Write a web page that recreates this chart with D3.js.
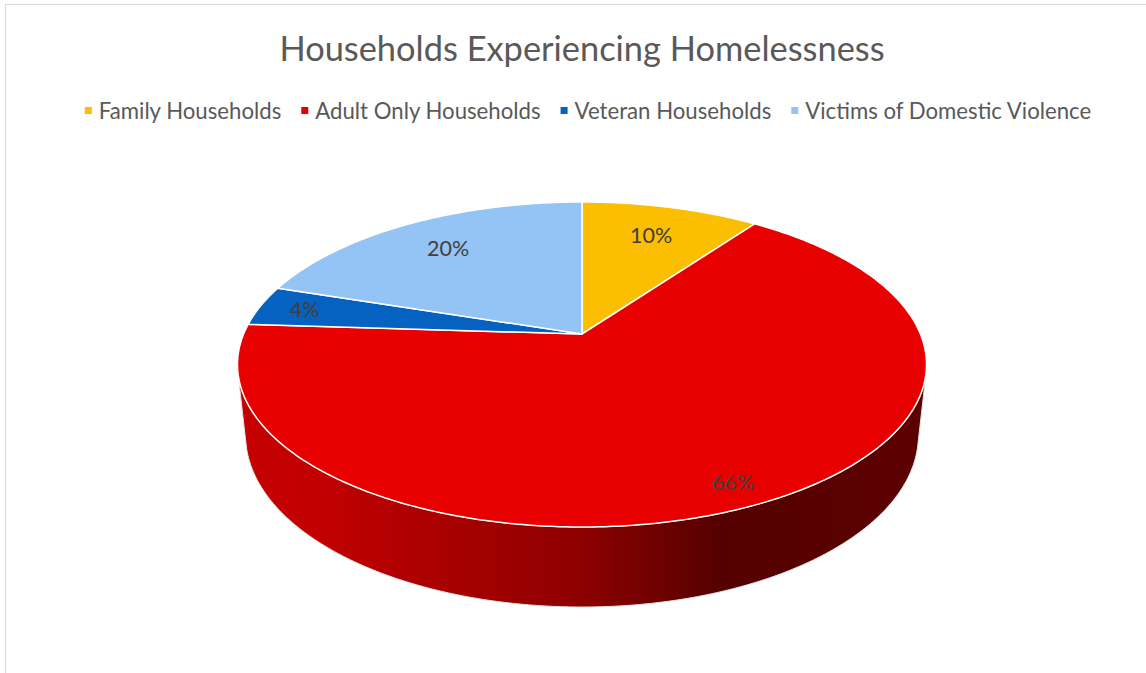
<!DOCTYPE html>
<html>
<head>
<meta charset="utf-8">
<script src="https://cdn.jsdelivr.net/npm/d3@7"></script>
<style>
  html, body { margin: 0; padding: 0; background: #fff; }
  svg { display: block; font-family: Lato, "Open Sans", sans-serif; }
</style>
</head>
<body>
<svg id="chart" width="1146" height="673"></svg>
<script>
// Household groups and their share of all households (percent)
const categories = ["Family Households", "Adult Only Households", "Veteran Households", "Victims of Domestic Violence"];
const shares = [10, 66, 4, 20];
const colors = ["#FBBE00", "#E80000", "#0562C1", "#94C4F5"];
const chartTitle = "Households Experiencing Homelessness";

// How far out along each slice its label sits (fraction of the radius)
const labelReach = [0.75, 0.89, 0.86, 0.75];

const svg = d3.select("#chart");
const W = 1146, H = 673;

// Chart frame
svg.append("rect")
  .attr("x", 5.5).attr("y", 4.5)
  .attr("width", W + 10).attr("height", H + 10)
  .attr("fill", "#fff").attr("stroke", "#d9d9d9").attr("stroke-width", 1);

// Title
svg.append("text")
  .attr("x", 582).attr("y", 61)
  .attr("text-anchor", "middle")
  .attr("font-size", 34.4)
  .attr("fill", "#595959")
  .text(chartTitle);

// Legend, laid out from measured text widths and centred
const legendY = 118.5, legendFont = 22.2, sw = 7, swGap = 7, itemGap = 20;
const legend = svg.append("g");
const items = legend.selectAll("g").data(categories).join("g");
items.append("rect")
  .attr("width", sw).attr("height", sw)
  .attr("y", legendY - 11.5)
  .attr("fill", (d, i) => colors[i]);
items.append("text")
  .attr("x", sw + swGap).attr("y", legendY)
  .attr("font-size", legendFont)
  .attr("fill", "#595959")
  .text(d => d);
let widths = [];
items.each(function() { widths.push(sw + swGap + this.querySelector("text").getComputedTextLength()); });
const total = d3.sum(widths) + itemGap * (widths.length - 1);
let cursor = 588 - total / 2;
items.attr("transform", (d, i) => {
  const x = cursor;
  cursor += widths[i] + itemGap;
  return `translate(${x},0)`;
});

// Perspective view of a tilted disc
const cx = 582, cy = 334;           // screen position of the pie centre
const farY = 202, nearY = 527;      // screen y of far and near rim
const tilt = 27.6 * Math.PI / 180;
const sT = Math.sin(tilt), cT = Math.cos(tilt);
const k = (nearY - cy) / (cy - farY);
const dist = cT * (k + 1) / (k - 1);
const focal = (cy - farY) * (dist + cT) / sT;
const thickness = 0.238;

function project(X, Y, Z) {
  const up = Y * sT + Z * cT;
  const depth = dist + Y * cT - Z * sT;
  return [cx + focal * X / depth, cy - focal * up / depth];
}
function rim(a, r, z) { return project(r * Math.sin(a), r * Math.cos(a), z); }

const pie = d3.pie().sort(null).value(d => d)
  .startAngle(0).endAngle(2 * Math.PI);
const arcs = pie(shares);

function arcPoints(a0, a1, r, z) {
  const n = Math.max(2, Math.ceil((a1 - a0) / 0.01));
  return d3.range(n + 1).map(i => rim(a0 + (a1 - a0) * i / n, r, z));
}

const line = d3.line();

// Side walls: only the front-facing part of the cylinder is visible
const limit = Math.acos(-1 / (dist * cT));
const visLo = limit, visHi = 2 * Math.PI - limit;

const defs = svg.append("defs");
const leftX = project(-1, -cT / dist, -thickness)[0] - 6;
const rightX = 2 * cx - leftX;

arcs.forEach((d, i) => {
  const base = d3.color(colors[i]);
  const g = defs.append("linearGradient")
    .attr("id", "side" + i)
    .attr("gradientUnits", "userSpaceOnUse")
    .attr("x1", leftX).attr("x2", rightX).attr("y1", 0).attr("y2", 0);
  [[0, 0.43], [0.12, 0.5], [0.5, 1.39], [0.7, 2.83], [1, 2.6]].forEach(([o, dk]) => {
    g.append("stop").attr("offset", o).attr("stop-color", base.darker(dk).formatHex());
  });
});

const sides = svg.append("g");
arcs.forEach((d, i) => {
  const a0 = Math.max(d.startAngle, visLo), a1 = Math.min(d.endAngle, visHi);
  if (a1 <= a0) return;
  const top = arcPoints(a0, a1, 1, 0);
  const bottom = arcPoints(a0, a1, 1, -thickness).reverse();
  sides.append("path")
    .attr("d", line(top.concat(bottom)) + "Z")
    .attr("fill", `url(#side${i})`)
    .attr("stroke", "#e4e4e4").attr("stroke-width", 1);
});

// Top faces
const tops = svg.append("g");
arcs.forEach((d, i) => {
  const pts = [project(0, 0, 0)].concat(arcPoints(d.startAngle, d.endAngle, 1, 0));
  tops.append("path")
    .attr("d", line(pts) + "Z")
    .attr("fill", colors[i])
    .attr("stroke", "#fff").attr("stroke-width", 1.5)
    .attr("stroke-linejoin", "round");
});

// Data labels
const fmt = d3.format(".0%");
const sum = d3.sum(shares);
svg.append("g").selectAll("text").data(arcs).join("text")
  .attr("transform", (d, i) => {
    const mid = (d.startAngle + d.endAngle) / 2;
    const [x, y] = rim(mid, labelReach[i], 0);
    return `translate(${x},${y})`;
  })
  .attr("text-anchor", "middle")
  .attr("dy", "0.35em")
  .attr("font-size", 21.5)
  .attr("fill", "#404040")
  .text(d => fmt(d.data / sum));
</script>
</body>
</html>
